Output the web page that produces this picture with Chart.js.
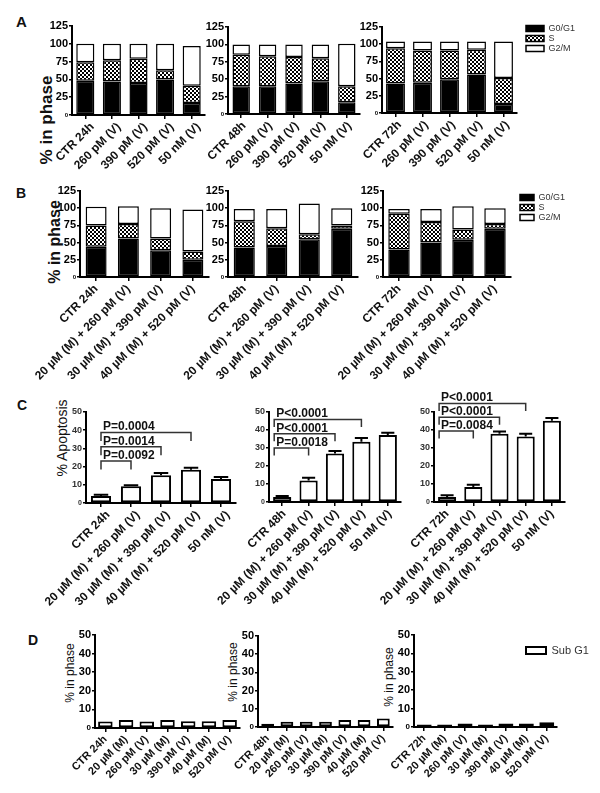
<!DOCTYPE html>
<html>
<head>
<meta charset="utf-8">
<title>Cell cycle phases and apoptosis</title>
<script src="https://cdn.jsdelivr.net/npm/chart.js@4.4.1/dist/chart.umd.min.js"></script>
<style>
html,body{margin:0;padding:0;background:#fff;}
body{width:600px;height:793px;position:relative;overflow:hidden;font-family:Arial,"Liberation Sans",sans-serif;color:#111;}
canvas{position:absolute;}
.letter{position:absolute;font-weight:bold;line-height:1;}
.yt{position:absolute;white-space:nowrap;line-height:1;transform:translate(-50%,-50%) rotate(-90deg);}
</style>
</head>
<body>
<div class="letter" style="left:16px;top:14px;font-size:15px">A</div>
<div class="letter" style="left:16px;top:186px;font-size:14px">B</div>
<div class="letter" style="left:17px;top:398px;font-size:14px">C</div>
<div class="letter" style="left:28px;top:633px;font-size:14px">D</div>
<div class="yt" style="left:46px;top:120px;font-size:17px;font-weight:bold">% in phase</div>
<div class="yt" style="left:55px;top:242px;font-size:16px;font-weight:bold">% in phase</div>
<div class="yt" style="left:62px;top:438px;font-size:14px">% Apoptosis</div>
<div class="yt" style="left:70px;top:673px;font-size:12px">% in phase</div>
<div class="yt" style="left:233px;top:672px;font-size:12px">% in phase</div>
<div class="yt" style="left:389px;top:677px;font-size:12px">% in phase</div>
<script>
// ---------------- DATA ----------------
const phaseNames = ['G0/G1', 'S', 'G2/M'];
const phaseTicks = [0, 25, 50, 75, 100, 125];
const pctTicks = [0, 10, 20, 30, 40, 50];

const catsA24 = ['CTR 24h', '260 pM (V)', '390 pM (V)', '520 pM (V)', '50 nM (V)'];
const catsA48 = ['CTR 48h', '260 pM (V)', '390 pM (V)', '520 pM (V)', '50 nM (V)'];
const catsA72 = ['CTR 72h', '260 pM (V)', '390 pM (V)', '520 pM (V)', '50 nM (V)'];
const a24G0G1 = [48, 47, 45, 50, 17];
const a24S    = [26, 30, 34, 13, 24];
const a24G2M  = [26, 23, 21, 37, 56];
const a48G0G1 = [40, 40, 44, 47, 17];
const a48S    = [45, 43, 38, 33, 23];
const a48G2M  = [15, 17, 18, 20, 61];
const a72G0G1 = [43, 44, 49, 56, 13];
const a72S    = [51, 47, 42, 36, 38];
const a72G2M  = [10, 13, 13, 12, 53];

const catsB24 = ['CTR 24h', '20 µM (M) + 260 pM (V)', '30 µM (M) + 390 pM (V)', '40 µM (M) + 520 pM (V)'];
const catsB48 = ['CTR 48h', '20 µM (M) + 260 pM (V)', '30 µM (M) + 390 pM (V)', '40 µM (M) + 520 pM (V)'];
const catsB72 = ['CTR 72h', '20 µM (M) + 260 pM (V)', '30 µM (M) + 390 pM (V)', '40 µM (M) + 520 pM (V)'];
const b24G0G1 = [44, 56, 39, 25];
const b24S    = [31, 21, 17, 12];
const b24G2M  = [27, 26, 44, 61];
const b48G0G1 = [43, 45, 55, 70];
const b48S    = [38, 26, 7, 5];
const b48G2M  = [18, 28, 45, 25];
const b72G0G1 = [40, 50, 54, 70];
const b72S    = [52, 30, 15, 7];
const b72G2M  = [7, 19, 34, 23];

const catsC24 = ['CTR 24h', '20 µM (M) + 260 pM (V)', '30 µM (M) + 390 pM (V)', '40 µM (M) + 520 pM (V)', '50 nM (V)'];
const catsC48 = ['CTR 48h', '20 µM (M) + 260 pM (V)', '30 µM (M) + 390 pM (V)', '40 µM (M) + 520 pM (V)', '50 nM (V)'];
const catsC72 = ['CTR 72h', '20 µM (M) + 260 pM (V)', '30 µM (M) + 390 pM (V)', '40 µM (M) + 520 pM (V)', '50 nM (V)'];
const c24Apop = [3.8, 9.2, 15.2, 18.3, 13.2];
const c24Err  = [0.8, 0.5, 1.3, 1.1, 1.1];
const c48Apop = [2.8, 12.0, 26.9, 33.5, 37.2];
const c48Err  = [0.6, 1.5, 1.5, 2.0, 1.3];
const c72Apop = [2.8, 8.3, 37.9, 36.4, 45.2];
const c72Err  = [0.9, 1.3, 1.3, 1.5, 1.5];
const c24Pvals = [[0, 1, 'P=0.0092'], [0, 2, 'P=0.0014'], [0, 3, 'P=0.0004']];
const c48Pvals = [[0, 1, 'P=0.0018'], [0, 2, 'P<0.0001'], [0, 3, 'P<0.0001']];
const c72Pvals = [[0, 1, 'P=0.0084'], [0, 2, 'P<0.0001'], [0, 3, 'P<0.0001']];

const catsD24 = ['CTR 24h', '20 µM (M)', '260 pM (V)', '30 µM (M)', '390 pM (V)', '40 µM (M)', '520 pM (V)'];
const catsD48 = ['CTR 48h', '20 µM (M)', '260 pM (V)', '30 µM (M)', '390 pM (V)', '40 µM (M)', '520 pM (V)'];
const catsD72 = ['CTR 72h', '20 µM (M)', '260 pM (V)', '30 µM (M)', '390 pM (V)', '40 µM (M)', '520 pM (V)'];
const subG1Name = 'Sub G1';
const d24SubG1 = [3.5, 4.3, 3.5, 4.3, 3.6, 3.6, 4.3];
const d48SubG1 = [1.8, 2.9, 2.9, 2.9, 3.8, 3.8, 4.7];
const d72SubG1 = [1.3, 1.3, 1.9, 1.3, 1.9, 1.9, 2.6];

// ---------------- STYLE / DRAWING ----------------
const FONT = 'Arial, "Liberation Sans", sans-serif';
Chart.defaults.font.family = FONT;
Chart.defaults.color = '#000';
Chart.defaults.animation = false;

const hatchPat = (function () {
  const c = document.createElement('canvas'); c.width = 4; c.height = 4;
  const x = c.getContext('2d');
  x.fillStyle = '#fff'; x.fillRect(0, 0, 4, 4);
  x.fillStyle = '#000'; x.fillRect(0, 0, 2, 2); x.fillRect(2, 2, 2, 2);
  return x.createPattern(c, 'repeat');
})();

const legendMover = {
  id: 'legendMover',
  afterLayout(chart, args, o) {
    const L = chart.legend;
    if (!L || !o || o.x === undefined) return;
    const w = L.width, h = L.height;
    L.left = o.x; L.top = o.y; L.right = o.x + w; L.bottom = o.y + h;
  }
};
const errbars = {
  id: 'errbars',
  afterDatasetsDraw(chart, args, o) {
    if (!o || !o.err) return;
    const meta = chart.getDatasetMeta(0), ys = chart.scales.y, ctx = chart.ctx;
    const vals = chart.data.datasets[0].data;
    ctx.save(); ctx.strokeStyle = '#000'; ctx.lineWidth = 2;
    meta.data.forEach((bar, i) => {
      const yTop = ys.getPixelForValue(vals[i] + o.err[i]);
      const half = bar.width * 0.36;
      ctx.beginPath();
      ctx.moveTo(bar.x, bar.y); ctx.lineTo(bar.x, yTop);
      ctx.moveTo(bar.x - half, yTop); ctx.lineTo(bar.x + half, yTop);
      ctx.stroke();
    });
    ctx.restore();
  }
};
const brackets = {
  id: 'brackets',
  afterDatasetsDraw(chart, args, o) {
    if (!o || !o.items) return;
    const ctx = chart.ctx, meta = chart.getDatasetMeta(0), top = chart.chartArea.top;
    ctx.save();
    ctx.strokeStyle = '#333'; ctx.lineWidth = 1.5; ctx.fillStyle = '#111';
    ctx.font = 'bold 12px ' + FONT; ctx.textBaseline = 'alphabetic'; ctx.textAlign = 'left';
    o.items.forEach((b, k) => {
      const y = top + o.base - k * o.step;
      const x1 = meta.data[b[0]].x + o.leftShift, x2 = meta.data[b[1]].x;
      ctx.beginPath();
      ctx.moveTo(x1, y + o.drop); ctx.lineTo(x1, y); ctx.lineTo(x2, y); ctx.lineTo(x2, y + o.drop);
      ctx.stroke();
      ctx.fillText(b[2], x1 + 2, y - 2);
    });
    ctx.restore();
  }
};
Chart.register(legendMover, errbars, brackets);

function place(g) {
  const cv = document.createElement('canvas');
  const L = g.ax - g.yw, T = g.at - g.pt;
  const W = g.ar - g.ax + g.yw + g.pr, H = g.ab - g.at + g.pt + g.xh;
  cv.width = W; cv.height = H;
  Object.assign(cv.style, { left: L + 'px', top: T + 'px', width: W + 'px', height: H + 'px' });
  document.body.appendChild(cv);
  return { cv, L, T };
}
function xScale(g, fs, stacked) {
  return {
    stacked, offset: true,
    grid: { offset: false, drawOnChartArea: false, tickLength: 4, color: '#000', lineWidth: 1.5 },
    border: { color: '#000', width: 2 },
    ticks: { autoSkip: false, minRotation: 45, maxRotation: 45, padding: 1, labelOffset: g.lo || 0, color: '#111', font: { size: fs, weight: 'bold' } },
    afterFit: s => { s.height = g.xh; }
  };
}
function yScale(g, max, tickVals, fs, color, zs) {
  return {
    stacked: true, min: 0, max,
    afterBuildTicks: s => { s.ticks = tickVals.map(v => ({ value: v })); },
    grid: { drawOnChartArea: false, tickLength: 3, color: '#000', lineWidth: 1.5 },
    border: { color: '#000', width: 2 },
    ticks: { padding: 1, color, font: c => ({ size: (c.tick && c.tick.value === 0) ? zs : fs, weight: 'bold' }) },
    afterFit: s => { s.width = g.yw; }
  };
}

function phaseChart(g, cats, s1, s2, s3, leg) {
  const { cv, L, T } = place(g);
  const plugins = { legend: { display: false }, tooltip: { enabled: false } };
  if (leg) {
    plugins.legend = { display: true, position: 'chartArea', align: 'start',
      labels: { boxWidth: leg.bw, boxHeight: 6, padding: 1, font: { size: 9 }, color: '#333' } };
    plugins.legendMover = { x: leg.x - L - 1, y: leg.y - T - 1 };
  }
  new Chart(cv, {
    type: 'bar',
    data: { labels: cats, datasets: [
      { label: phaseNames[0], data: s1, backgroundColor: '#000', borderColor: '#000', borderWidth: 1.5, borderSkipped: false },
      { label: phaseNames[1], data: s2, backgroundColor: hatchPat, borderColor: '#000', borderWidth: 1.5, borderSkipped: false },
      { label: phaseNames[2], data: s3, backgroundColor: '#fff', borderColor: '#000', borderWidth: 1.5, borderSkipped: false }
    ] },
    options: {
      responsive: false, animation: false,
      layout: { padding: { top: g.pt, right: g.pr, left: 0, bottom: 0 }, autoPadding: false },
      datasets: { bar: { barPercentage: g.bp, categoryPercentage: 1 } },
      scales: { x: xScale(g, 12, true), y: yScale(g, 125, phaseTicks, 11, '#000', 6) },
      plugins
    }
  });
}
function apopChart(g, cats, vals, errs, pv, br) {
  const { cv } = place(g);
  new Chart(cv, {
    type: 'bar',
    data: { labels: cats, datasets: [
      { label: '% Apoptosis', data: vals, backgroundColor: '#fff', borderColor: '#000', borderWidth: 2, borderSkipped: false }
    ] },
    options: {
      responsive: false, animation: false,
      layout: { padding: { top: g.pt, right: g.pr, left: 0, bottom: 0 }, autoPadding: false },
      datasets: { bar: { barPercentage: g.bp, categoryPercentage: 1 } },
      scales: { x: xScale(g, 12, false), y: yScale(g, 50, pctTicks, 9, '#333', 7) },
      plugins: { legend: { display: false }, tooltip: { enabled: false },
        errbars: { err: errs },
        brackets: { items: pv, base: br.base, step: br.step, drop: br.drop, leftShift: br.shift } }
    }
  });
}
function subChart(g, cats, vals, leg) {
  const { cv, L, T } = place(g);
  const plugins = { legend: { display: false }, tooltip: { enabled: false } };
  if (leg) {
    plugins.legend = { display: true, position: 'chartArea', align: 'start',
      labels: { boxWidth: 20, boxHeight: 7, padding: 1, font: { size: 11 }, color: '#333' } };
    plugins.legendMover = { x: leg.x - L - 1, y: leg.y - T - 1 };
  }
  new Chart(cv, {
    type: 'bar',
    data: { labels: cats, datasets: [
      { label: subG1Name, data: vals, backgroundColor: '#fff', borderColor: '#000', borderWidth: 2, borderSkipped: false }
    ] },
    options: {
      responsive: false, animation: false,
      layout: { padding: { top: g.pt, right: g.pr, left: 0, bottom: 0 }, autoPadding: false },
      datasets: { bar: { barPercentage: g.bp, categoryPercentage: 1 } },
      scales: { x: xScale(g, 11, false), y: yScale(g, 50, pctTicks, 11, '#000', 8) },
      plugins
    }
  });
}

// ---------------- PANELS ----------------
phaseChart({ ax: 72, ar: 205, at: 26, ab: 115, yw: 60, pt: 8, pr: 4, xh: 75, bp: 0.68, lo: 7 }, catsA24, a24G0G1, a24S, a24G2M);
phaseChart({ ax: 228, ar: 360, at: 27, ab: 114, yw: 60, pt: 8, pr: 4, xh: 75, bp: 0.66, lo: 3 }, catsA48, a48G0G1, a48S, a48G2M);
phaseChart({ ax: 382, ar: 517, at: 27, ab: 113, yw: 60, pt: 8, pr: 80, xh: 75, bp: 0.7, lo: 4 }, catsA72, a72G0G1, a72S, a72G2M, { x: 526, y: 24, bw: 18 });

phaseChart({ ax: 80, ar: 209, at: 191, ab: 277, yw: 90, pt: 8, pr: 4, xh: 115, bp: 0.65 }, catsB24, b24G0G1, b24S, b24G2M);
phaseChart({ ax: 228, ar: 358, at: 191, ab: 277, yw: 90, pt: 8, pr: 4, xh: 115, bp: 0.65 }, catsB48, b48G0G1, b48S, b48G2M);
phaseChart({ ax: 383, ar: 511, at: 191, ab: 277, yw: 90, pt: 8, pr: 80, xh: 115, bp: 0.67 }, catsB72, b72G0G1, b72S, b72G2M, { x: 520, y: 193, bw: 14 });

apopChart({ ax: 86, ar: 236, at: 412, ab: 503, yw: 90, pt: 34, pr: 4, xh: 115, bp: 0.67, lo: 7 }, catsC24, c24Apop, c24Err, c24Pvals, { base: 49, step: 14.3, drop: 8.5, shift: 0 });
apopChart({ ax: 269, ar: 401, at: 412, ab: 502, yw: 90, pt: 34, pr: 4, xh: 115, bp: 0.69, lo: 2 }, catsC48, c48Apop, c48Err, c48Pvals, { base: 36, step: 14.3, drop: 7.5, shift: -8 });
apopChart({ ax: 434, ar: 565, at: 412, ab: 502, yw: 90, pt: 34, pr: 4, xh: 115, bp: 0.69 }, catsC72, c72Apop, c72Err, c72Pvals, { base: 19, step: 13.8, drop: 7.5, shift: -8 });

subChart({ ax: 95, ar: 240, at: 635, ab: 728, yw: 60, pt: 8, pr: 4, xh: 70, bp: 0.7 }, catsD24, d24SubG1);
subChart({ ax: 258, ar: 393, at: 636, ab: 727, yw: 60, pt: 8, pr: 4, xh: 70, bp: 0.66 }, catsD48, d48SubG1);
subChart({ ax: 414, ar: 557, at: 635, ab: 727, yw: 60, pt: 8, pr: 40, xh: 70, bp: 0.73 }, catsD72, d72SubG1, { x: 526, y: 645 });
</script>
</body>
</html>
